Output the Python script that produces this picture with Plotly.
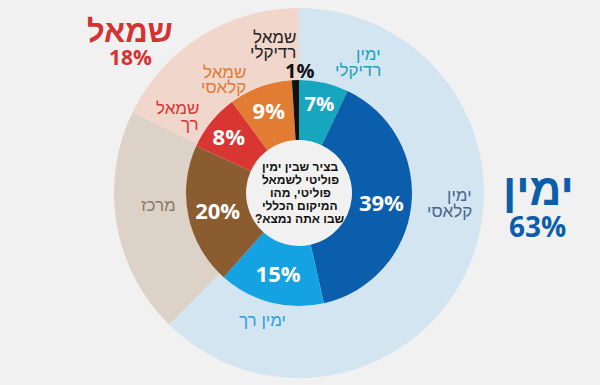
import plotly.graph_objects as go

# ---- data ----
inner_labels = ["ימין רדיקלי", "ימין קלאסי", "ימין רך", "מרכז", "שמאל רך", "שמאל קלאסי", "שמאל רדיקלי"]
inner_values = [7, 39, 15, 20, 8, 9, 1]
outer_labels = ["ימין", "מרכז", "שמאל"]
outer_values = [63, 20, 18]
question = ["בציר שבין ימין", "פוליטי לשמאל", "פוליטי, מהו", "המיקום הכללי", "שבו אתה נמצא?\u200f"]
# how each segment name is wrapped
name_lines = [["ימין", "רדיקלי"], ["ימין", "קלאסי"], ["ימין רך"], ["מרכז"],
              ["שמאל", "רך"], ["שמאל", "קלאסי"], ["שמאל", "רדיקלי"]]

# ---- styles ----
inner_colors = ["#16a7bf", "#0a5eab", "#14a2e3", "#8a5c2f", "#d93533", "#e27c32", "#111111"]
outer_colors = ["#d2e5f1", "#dcd2c7", "#f1d6cc"]
name_colors = ["#1ba3bd", "#4a6690", "#2b9fe0", "#8c7b68", "#d93533", "#e07b36", "#222222"]
# right edge x / first-line centre y (px from top-left) for each segment name
name_pos = [(383, 54), (474, 196), (288, 320), (178, 206), (201, 108), (248, 72), (298, 37)]
name_line_gap = 16
small_pct_pos = (299, 70)
q_top, q_gap = 167, 13

W, H = 600, 385
cx, cy = 299, 193
R_out, R_mid, R_in = 185, 113, 53

def dom(r):
    return dict(x=[(cx - r) / W, (cx + r) / W],
                y=[(H - cy - r) / H, (H - cy + r) / H])

def at(x, y, xa="center"):
    return dict(x=x / W, y=1 - y / H, xref="paper", yref="paper",
                xanchor=xa, yanchor="middle", showarrow=False)

fig = go.Figure()
fig.add_trace(go.Pie(
    labels=outer_labels, values=outer_values, sort=False, direction="clockwise",
    rotation=0, hole=R_mid / R_out, domain=dom(R_out),
    marker=dict(colors=outer_colors, line=dict(width=0)),
    textinfo="none", hoverinfo="label+value", showlegend=False,
))
positions = ["inside"] * (len(inner_values) - 1) + ["none"]
fig.add_trace(go.Pie(
    labels=inner_labels, values=inner_values, sort=False, direction="clockwise",
    rotation=0, hole=R_in / R_mid, domain=dom(R_mid),
    marker=dict(colors=inner_colors, line=dict(width=0)),
    texttemplate="%{value}%", textposition=positions,
    insidetextorientation="horizontal",
    insidetextfont=dict(family="Open Sans", size=22, color="white", weight="bold"),
    hoverinfo="label+value", showlegend=False,
))

ann = []
for lines, col, (x, y) in zip(name_lines, name_colors, name_pos):
    for k, ln in enumerate(lines):
        ann.append(dict(**at(x, y + k * name_line_gap, "right"), text=ln,
                        font=dict(family="Liberation Sans", size=17, color=col)))
# tiny slice percent (shown outside the ring)
ann.append(dict(**at(*small_pct_pos), text=f"{inner_values[-1]}%",
                font=dict(family="Open Sans", size=20, color="#111", weight="bold")))
# question in hole
for k, ln in enumerate(question):
    ann.append(dict(**at(cx + 1, q_top + k * q_gap), text=ln,
                    font=dict(family="Liberation Sans", size=12, color="#111", weight="bold")))
# big group labels
big = [(outer_labels[2], 130, 31, 31, "#d63232", "Liberation Sans"),
       (f"{outer_values[2]}%", 130, 57, 21, "#d63232", "Open Sans"),
       (outer_labels[0], 538, 190, 44, "#0a5eab", "Liberation Sans"),
       (f"{outer_values[0]}%", 537, 226, 28, "#0a5eab", "Open Sans")]
for t, x, y, s, c, f in big:
    ann.append(dict(**at(x, y), text=t, font=dict(family=f, size=s, color=c, weight="bold")))

fig.update_layout(
    width=W, height=H, margin=dict(l=0, r=0, t=0, b=0),
    paper_bgcolor="#f1f1f1", plot_bgcolor="#f1f1f1",
    annotations=ann,
)
fig.write_html("out.html", config={"displayModeBar": False},
               post_script="document.body.style.margin='0';document.body.style.background='#f1f1f1';")
